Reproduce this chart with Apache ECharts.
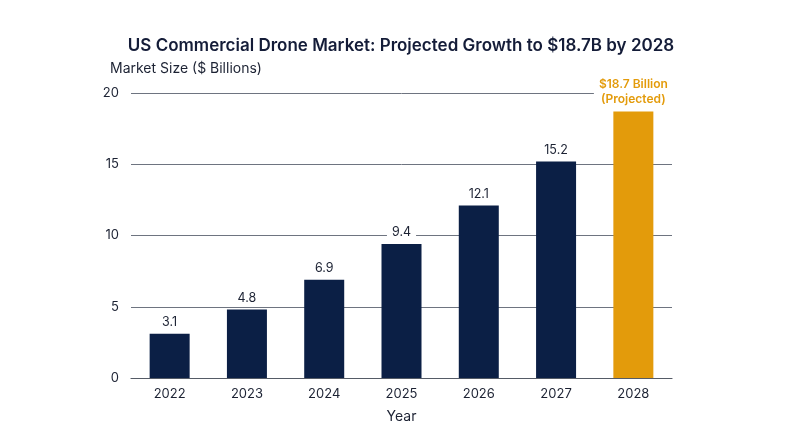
<!DOCTYPE html>
<html><head><meta charset="utf-8">
<script src="https://cdn.jsdelivr.net/npm/echarts@6/dist/echarts.min.js"></script>
<style>html,body{margin:0;padding:0;background:#fff}#c{width:800px;height:447px}</style>
</head><body><div id="c"></div>
<script>
const years = ['2022','2023','2024','2025','2026','2027','2028'];
const marketSize = [3.1, 4.8, 6.9, 9.4, 12.1, 15.2, 18.7];
const projectedLabel = '$18.7 Billion\n(Projected)';
const navy = '#0b1f45', orange = '#e39b0b', textC = '#1c2233';
const chart = echarts.init(document.getElementById('c'));
chart.setOption({
  backgroundColor: '#fff',
  textStyle: { fontFamily: 'Inter' },
  title: {
    text: 'US Commercial Drone Market: Projected Growth to $18.7B by 2028',
    left: 396, top: 32, textAlign: 'center',
    textStyle: { fontFamily: 'Inter', fontSize: 17, fontWeight: 600, color: '#141c38' }
  },
  grid: { left: 131, right: 128, top: 93, bottom: 69 },
  xAxis: {
    type: 'category', data: years,
    name: 'Year', nameLocation: 'middle', nameGap: 32,
    nameTextStyle: { fontSize: 14, color: textC },
    axisLine: { lineStyle: { color: '#555b66', width: 1.2 } },
    axisTick: { show: false },
    axisLabel: { fontSize: 13, color: textC, margin: 10 }
  },
  yAxis: {
    type: 'value', min: 0, max: 20, interval: 5,
    name: 'Market Size ($ Billions)', nameLocation: 'end', nameGap: 17,
    nameTextStyle: { fontSize: 14, color: textC, align: 'left', padding: [0,0,0,-21] },
    axisLine: { show: false }, axisTick: { show: false },
    axisLabel: { fontSize: 13, color: textC, margin: 12 },
    splitLine: { lineStyle: { color: '#6e7480', width: 1 } }
  },
  series: [{
    type: 'bar', barWidth: 40,
    data: marketSize.map((v, i) => i === marketSize.length - 1 ? {
      value: v, itemStyle: { color: orange },
      label: { formatter: projectedLabel, color: orange, fontWeight: 600, fontSize: 12, lineHeight: 15 }
    } : v),
    itemStyle: { color: navy },
    label: { show: true, position: 'top', distance: 4, fontSize: 12.5, color: textC,
      backgroundColor: '#fff', padding: [1, 5] },
    z: 3
  }]
});
</script></body></html>
